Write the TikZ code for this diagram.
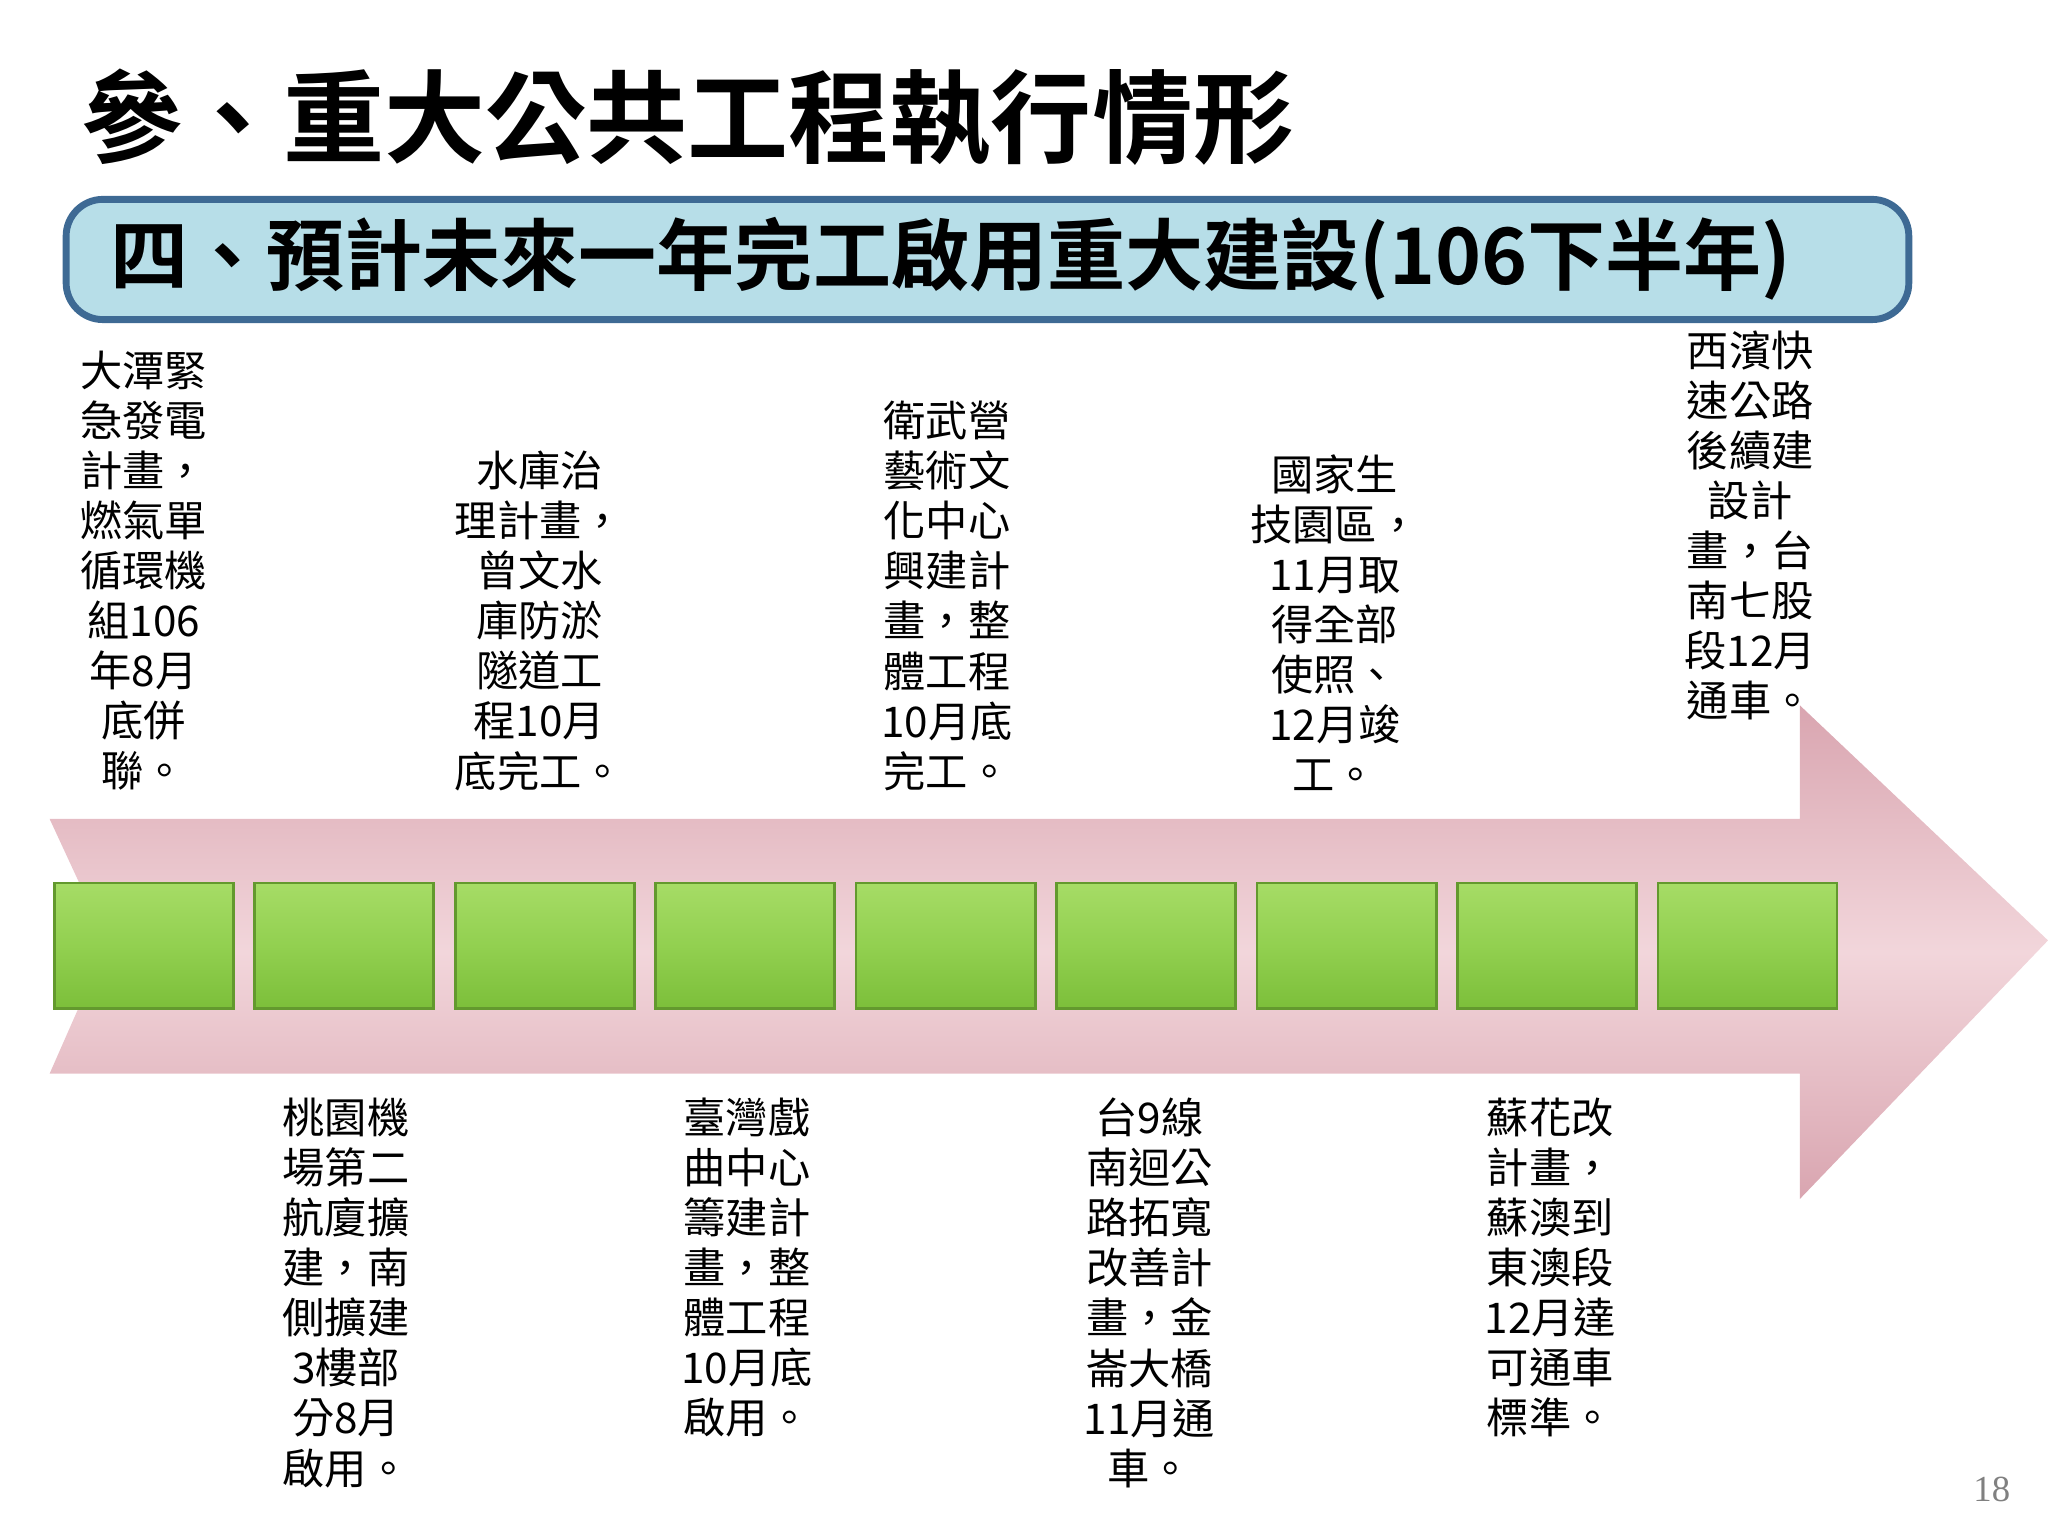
\documentclass[tikz,border=0pt]{standalone}
\usepackage{fontspec}
\newfontfamily\cjk{Noto Sans CJK TC}
\newfontfamily\cjkb{Noto Sans CJK TC Bold}
\setmainfont{Liberation Serif}
\definecolor{bandfill}{HTML}{B7DEE8}
\definecolor{bandline}{HTML}{3E6A94}
\definecolor{pinkedge}{HTML}{D9A5B0}
\definecolor{pinkmid}{HTML}{F2D6DB}
\definecolor{gtop}{HTML}{A6DC66}
\definecolor{gmid}{HTML}{92D050}
\definecolor{gbot}{HTML}{7CBF3A}
\begin{document}
\begin{tikzpicture}[x=0.01cm,y=-0.01cm,
  sq/.style={draw=gbot!80!black,line width=0.6pt,top color=gtop,bottom color=gbot,middle color=gmid,minimum width=1.37cm,minimum height=0.96cm,inner sep=0pt},
  lab/.style={font=\cjk\fontsize{9.2}{10.9}\selectfont,align=center,inner sep=0pt}]
\useasboundingbox (0,0) rectangle (1568,1176);
\node[anchor=west,font=\cjkb\fontsize{22}{25}\selectfont] (title) at (50,90) {參、重大公共工程執行情形};
\node[draw=bandline,line width=1.5pt,fill=bandfill,rounded corners=8pt,minimum width=14.1cm,minimum height=0.92cm,anchor=north west] (band) at (48,150) {};
\node[anchor=west,font=\cjkb\fontsize{17}{20}\selectfont] (bt) at (72,198) {四、預計未來一年完工啟用重大建設(106下半年)};
\shade[top color=pinkedge,bottom color=pinkedge,middle color=pinkmid]
  (38,627) -- (1378,627) -- (1378,540) -- (1568,720) -- (1378,918) -- (1378,822) -- (38,822) -- (82,722) -- cycle;
\foreach \i in {0,...,8}{
  \node[sq] (s\i) at ({110+153.5*\i},724) {};
}
\node[lab,anchor=south] (t1) at (110,606) {大潭緊\\急發電\\計畫，\\燃氣單\\循環機\\組106\\年8月\\底併\\聯。};
\node[lab,anchor=south] (t2) at (413,606) {水庫治\\理計畫，\\曾文水\\庫防淤\\隧道工\\程10月\\底完工。};
\node[lab,anchor=south] (t3) at (725,606) {衛武營\\藝術文\\化中心\\興建計\\畫，整\\體工程\\10月底\\完工。};
\node[lab,anchor=south] (t4) at (1022,606) {國家生\\技園區，\\11月取\\得全部\\使照、\\12月竣\\工。};
\node[lab,anchor=south] (t5) at (1340,552) {西濱快\\速公路\\後續建\\設計\\畫，台\\南七股\\段12月\\通車。};
\node[lab,anchor=north] (b1) at (265,840) {桃園機\\場第二\\航廈擴\\建，南\\側擴建\\3樓部\\分8月\\啟用。};
\node[lab,anchor=north] (b2) at (572,840) {臺灣戲\\曲中心\\籌建計\\畫，整\\體工程\\10月底\\啟用。};
\node[lab,anchor=north] (b3) at (880,840) {台9線\\南迴公\\路拓寬\\改善計\\畫，金\\崙大橋\\11月通\\車。};
\node[lab,anchor=north] (b4) at (1187,840) {蘇花改\\計畫，\\蘇澳到\\東澳段\\12月達\\可通車\\標準。};
\node[text=gray,font=\fontsize{8}{9}\selectfont] (pg) at (1525,1140) {18};
\end{tikzpicture}
\end{document}
